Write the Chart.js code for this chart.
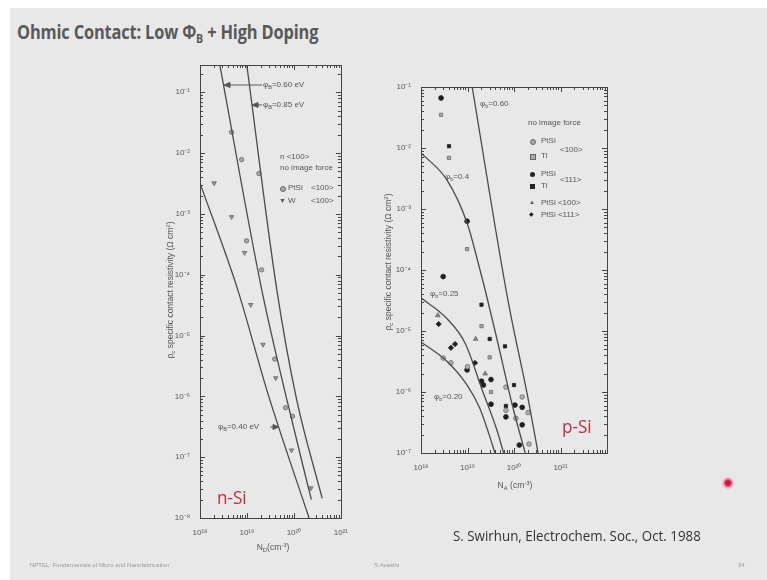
<!DOCTYPE html>
<html><head><meta charset="utf-8">
<script src="https://cdn.jsdelivr.net/npm/chart.js@4"></script>
<style>
html,body{margin:0;padding:0;background:#fff;}
#page{position:relative;width:767px;height:580px;overflow:hidden;background:#fff;}
#slide{position:absolute;left:10px;top:8px;width:757px;height:572px;background:#e8e8e8;}
.t{position:absolute;font-family:"Liberation Sans",Arial,sans-serif;color:#555;white-space:nowrap;line-height:1;}
.s8{font-size:8px;}
sub{font-size:70%;vertical-align:-2px;line-height:0;}
sup{font-size:70%;vertical-align:3px;line-height:0;}
canvas{position:absolute;}
.mk{position:absolute;display:block;}
</style></head>
<body><div id="page"><div id="slide"></div>

<div class="t" style="left:17px;top:22px;font-family:'Open Sans',sans-serif;font-weight:700;font-size:20px;color:#595959;transform:scaleX(0.82);transform-origin:0 0;letter-spacing:-0.2px">Ohmic Contact: Low Φ<sub style="font-size:13px;vertical-align:-4px">B</sub> + High Doping</div>

<canvas id="cL" width="180" height="495" style="left:170px;top:55px"></canvas>
<canvas id="cR" width="225" height="400" style="left:391px;top:77px"></canvas>

<svg style="position:absolute;left:0;top:0" width="767" height="580">
 <g stroke="#555" stroke-width="1" fill="#555">
  <line x1="262" y1="85" x2="229" y2="85"/><polygon points="224,85 230,82.5 230,87.5"/>
  <line x1="262" y1="105" x2="257" y2="105"/><polygon points="252,105 258,102.5 258,107.5"/>
  <line x1="270" y1="427" x2="274" y2="427"/><polygon points="279,427 273,424.5 273,429.5"/>
 </g>
</svg>

<!-- left chart texts -->
<div class="t s8" style="left:263px;top:81px">φ<sub>B</sub>=0.60 eV</div>
<div class="t s8" style="left:263px;top:101px">φ<sub>B</sub>=0.85 eV</div>
<div class="t s8" style="left:280px;top:153px">n &lt;100&gt;</div>
<div class="t s8" style="left:280px;top:164px">no image force</div>
<span class="mk" style="left:280px;top:186px;width:4px;height:4px;border-radius:50%;background:#aaa;border:0.8px solid #666"></span>
<div class="t s8" style="left:288px;top:184px">PtSi</div>
<div class="t s8" style="left:311px;top:184px">&lt;100&gt;</div>
<div class="t s8" style="left:279px;top:197px;font-size:7px">▼</div>
<div class="t s8" style="left:288px;top:197px">W</div>
<div class="t s8" style="left:311px;top:197px">&lt;100&gt;</div>
<div class="t s8" style="left:218px;top:423px">φ<sub>B</sub>=0.40 eV</div>
<div class="t" style="left:217px;top:488px;font-family:'Open Sans',sans-serif;font-size:19px;color:#c42a3c;transform:scaleX(0.9);transform-origin:0 0">n-Si</div>
<div class="t s8" style="left:170px;top:290px;transform:translate(-50%,-50%) rotate(-90deg);font-size:8.5px">ρ<sub>c</sub> specific contact resistivity (Ω cm<sup>2</sup>)</div>
<div class="t s8" style="left:273px;top:547px;transform:translate(-50%,-50%);font-size:8.5px">N<sub>D</sub>(cm<sup>-3</sup>)</div>

<!-- right chart texts -->
<div class="t s8" style="left:480px;top:100px">φ<sub>b</sub>=0.60</div>
<div class="t s8" style="left:445px;top:173px">φ<sub>b</sub>=0.4</div>
<div class="t s8" style="left:430px;top:290px">φ<sub>b</sub>=0.25</div>
<div class="t s8" style="left:434px;top:393px">φ<sub>b</sub>=0.20</div>
<div class="t s8" style="left:528px;top:119px">no image force</div>
<span class="mk" style="left:530px;top:139px;width:4px;height:4px;border-radius:50%;background:#aaa;border:0.8px solid #666"></span>
<div class="t s8" style="left:541px;top:137px">PtSi</div>
<span class="mk" style="left:530px;top:154px;width:4px;height:4px;background:#aaa;border:0.8px solid #666"></span>
<div class="t s8" style="left:541px;top:152px">Ti</div>
<div class="t s8" style="left:560px;top:146px">&lt;100&gt;</div>
<span class="mk" style="left:530px;top:172px;width:5px;height:5px;border-radius:50%;background:#222"></span>
<div class="t s8" style="left:541px;top:170px">PtSi</div>
<span class="mk" style="left:530px;top:184px;width:5px;height:5px;background:#222"></span>
<div class="t s8" style="left:541px;top:182px">Ti</div>
<div class="t s8" style="left:560px;top:176px">&lt;111&gt;</div>
<div class="t s8" style="left:529px;top:199px;font-size:6px">▲</div>
<div class="t s8" style="left:541px;top:199px">PtSi &lt;100&gt;</div>
<div class="t s8" style="left:529px;top:211px;font-size:6px;color:#222">◆</div>
<div class="t s8" style="left:541px;top:211px">PtSi &lt;111&gt;</div>
<div class="t" style="left:562px;top:417px;font-family:'Open Sans',sans-serif;font-size:19px;color:#c42a3c;transform:scaleX(0.9);transform-origin:0 0">p-Si</div>
<div class="t s8" style="left:388px;top:262px;transform:translate(-50%,-50%) rotate(-90deg);font-size:8.5px">ρ<sub>c</sub> specific contact resistivity (Ω cm<sup>2</sup>)</div>
<div class="t s8" style="left:515px;top:485px;transform:translate(-50%,-50%);font-size:8.5px">N<sub>A</sub> (cm<sup>-3</sup>)</div>

<div class="t" style="left:453px;top:528px;font-family:'Open Sans',sans-serif;font-size:15px;color:#333;transform:scaleX(0.89);transform-origin:0 0">S. Swirhun, Electrochem. Soc., Oct. 1988</div>

<div class="t" style="left:30px;top:562px;font-size:6px;color:#9a9a9a">NPTEL: Fundamentals of Micro and Nanofabrication</div>
<div class="t" style="left:374px;top:562px;font-size:6px;color:#9a9a9a">S.Avasthi</div>
<div class="t" style="left:738px;top:562px;font-size:6px;color:#9a9a9a">34</div>

<span class="mk" style="left:722px;top:477px;width:12px;height:12px;border-radius:50%;background:radial-gradient(circle,#c8103a 0,#d81e48 30%,rgba(240,140,165,0.6) 55%,rgba(240,200,210,0) 100%)"></span>
</div>

<script>
// ---------- tick labels ----------
const leftXTicks  = [1e18, 1e19, 1e20, 1e21];
const leftYTicks  = [1e-8, 1e-7, 1e-6, 1e-5, 1e-4, 1e-3, 1e-2, 1e-1];
const rightXTicks = [1e18, 1e19, 1e20, 1e21];
const rightYTicks = [1e-7, 1e-6, 1e-5, 1e-4, 1e-3, 1e-2, 1e-1];

// ---------- n-Si (left) ----------
const nPtSiX = [4.7e18, 7.7e18, 1.8e19, 9.8e18, 2.05e19, 3.9e19, 6.6e19, 9.3e19];
const nPtSiY = [2.2e-2, 7.8e-3, 4.6e-3, 3.6e-4, 1.2e-4, 4.1e-6, 6.5e-7, 4.7e-7];
const nWX    = [2.0e18, 4.7e18, 8.9e18, 1.2e19, 2.2e19, 4.1e19, 8.9e19, 2.3e20];
const nWY    = [3.2e-3, 8.9e-4, 2.3e-4, 3.2e-5, 7.1e-6, 2.0e-6, 1.3e-7, 3.1e-8];
const nPhi040X = [1e18, 6.3e18, 2.75e19, 2.1e20];
const nPhi040Y = [3.2e-3, 5.8e-5, 1.15e-6, 1e-8];
const nPhi060X = [2.6e18, 2.05e19, 6.9e19, 2.35e20];
const nPhi060Y = [0.30, 5.8e-5, 9.5e-7, 2.0e-8];
const nPhi085X = [9.8e18, 4.3e19, 1.12e20, 4.0e20];
const nPhi085Y = [0.30, 5.8e-5, 9.5e-7, 2.1e-8];

// ---------- p-Si (right) ----------
const pPtSi100X = [1.0e19, 6.7e19, 1.5e20, 6.7e19, 2.0e20, 1.1e20, 2.1e20, 3.0e18, 4.4e18];
const pPtSi100Y = [2.6e-6, 1.2e-6, 8.3e-7, 5.0e-7, 4.6e-7, 3.7e-7, 1.4e-7, 3.6e-6, 3.0e-6];
const pTi100X   = [2.7e18, 4.0e18, 9.8e18, 2.0e19, 3.0e19, 3.2e19];
const pTi100Y   = [3.5e-2, 6.9e-3, 2.2e-4, 1.2e-5, 3.7e-6, 1.0e-6];
const pPtSi111X = [2.7e18, 9.8e18, 3.0e18, 9.8e18, 3.2e19, 2.0e19, 2.2e19, 3.2e19, 1.05e20, 1.5e20, 6.7e19, 1.5e20, 1.3e20];
const pPtSi111Y = [6.6e-2, 6.3e-4, 7.8e-5, 2.3e-6, 1.6e-6, 1.5e-6, 1.3e-6, 6.3e-7, 6.1e-7, 5.6e-7, 3.9e-7, 2.9e-7, 1.35e-7];
const pTi111X   = [4.0e18, 2.0e19, 3.0e19, 6.4e19, 1.0e20, 6.7e19];
const pTi111Y   = [1.07e-2, 2.7e-5, 7.4e-6, 5.6e-6, 1.3e-6, 5.9e-7];
const pTriX     = [2.3e18, 1.5e19, 2.4e19];
const pTriY     = [1.8e-5, 7.4e-6, 2.0e-6];
const pDiaX     = [2.4e18, 4.4e18, 5.4e18, 1.45e19];
const pDiaY     = [1.3e-5, 5.3e-6, 6.1e-6, 3.0e-6];
const pPhi060X = [1.26e19, 7.4e19, 2.0e20, 3.3e20];
const pPhi060Y = [0.1, 3.2e-5, 7.9e-7, 1e-7];
const pPhi040X = [1e18, 3.6e18, 9.8e18, 1.86e19, 2.4e19, 4.3e19, 9.1e19, 1.74e20];
const pPhi040Y = [8.3e-3, 3.0e-3, 5.9e-4, 1e-4, 4.7e-5, 7.4e-6, 6.3e-7, 1e-7];
const pPhi025X = [1e18, 3.6e18, 8.9e18, 2.1e19, 4.2e19, 6.0e19];
const pPhi025Y = [3.5e-5, 1.6e-5, 6.3e-6, 1.05e-6, 2.5e-7, 1e-7];
const pPhi020X = [1e18, 3.6e18, 9.8e18, 1.8e19, 2.8e19, 3.9e19];
const pPhi020Y = [6.6e-6, 3.2e-6, 1.3e-6, 5.6e-7, 2.2e-7, 1e-7];

const zip = (xs, ys) => xs.map((x, i) => ({x, y: ys[i]}));
const SUP = {'-':'⁻','0':'⁰','1':'¹','2':'²','3':'³','4':'⁴','5':'⁵','6':'⁶','7':'⁷','8':'⁸','9':'⁹'};
const pow10 = v => '10' + String(Math.round(Math.log10(v))).split('').map(c => SUP[c]).join('');

Chart.defaults.font.family = '"Liberation Sans", Arial, sans-serif';

const frame = {
  id: 'frame',
  afterDatasetsDraw(chart) {
    const {ctx, chartArea: a, scales: {x, y}} = chart;
    ctx.save();
    ctx.strokeStyle = '#444'; ctx.lineWidth = 1;
    ctx.strokeRect(Math.round(a.left) + 0.5, Math.round(a.top) + 0.5, Math.round(a.right - a.left), Math.round(a.bottom - a.top));
    const marks = sc => {
      const out = [];
      for (let n = Math.floor(Math.log10(sc.min)); n <= Math.ceil(Math.log10(sc.max)); n++)
        for (let m = 1; m <= 9; m++) {
          const v = m * Math.pow(10, n);
          if (v >= sc.min * 0.999 && v <= sc.max * 1.001) out.push({v, major: m === 1});
        }
      return out;
    };
    ctx.beginPath();
    marks(x).forEach(({v, major}) => {
      const p = Math.round(x.getPixelForValue(v)) + 0.5, L = major ? 5 : 3;
      ctx.moveTo(p, a.bottom); ctx.lineTo(p, a.bottom - L);
      ctx.moveTo(p, a.top); ctx.lineTo(p, a.top + L);
    });
    marks(y).forEach(({v, major}) => {
      const p = Math.round(y.getPixelForValue(v)) + 0.5, L = major ? 5 : 3;
      ctx.moveTo(a.left, p); ctx.lineTo(a.left + L, p);
      ctx.moveTo(a.right, p); ctx.lineTo(a.right - L, p);
    });
    ctx.stroke();
    ctx.restore();
  }
};

function line(xs, ys) {
  return {data: zip(xs, ys), showLine: true, pointRadius: 0, borderColor: '#4a4a4a', borderWidth: 1.3,
          cubicInterpolationMode: 'monotone', fill: false};
}
function pts(xs, ys, style, r, bg, bd, rot) {
  return {data: zip(xs, ys), showLine: false, pointStyle: style, pointRadius: r, backgroundColor: bg,
          borderColor: bd, borderWidth: 0.8, pointRotation: rot || 0};
}
function axes(xMin, xMax, yMin, yMax, xT, yT, yW, xH, xSkip) {
  const tk = {font: {size: 8}, color: '#555', maxRotation: 0, autoSkip: false};
  return {
    x: {type: 'logarithmic', min: xMin, max: xMax, grid: {display: false}, border: {display: false},
        ticks: Object.assign({}, tk, {padding: 2, callback: v => (xSkip && v >= xSkip) ? '' : pow10(v)}),
        afterBuildTicks: s => { s.ticks = xT.map(v => ({value: v})); },
        afterFit: s => { s.height = xH; }},
    y: {type: 'logarithmic', min: yMin, max: yMax, grid: {display: false}, border: {display: false},
        ticks: Object.assign({}, tk, {padding: 2, callback: v => pow10(v)}),
        afterBuildTicks: s => { s.ticks = yT.map(v => ({value: v})); },
        afterFit: s => { s.width = yW; }}
  };
}
const common = {animation: false, responsive: false, events: [],
  plugins: {legend: {display: false}, tooltip: {enabled: false}}};

new Chart(document.getElementById('cL'), {
  type: 'scatter',
  data: {datasets: [
    line(nPhi040X, nPhi040Y), line(nPhi060X, nPhi060Y), line(nPhi085X, nPhi085Y),
    pts(nPtSiX, nPtSiY, 'circle', 2.2, '#a8a8a8', '#666'),
    pts(nWX, nWY, 'triangle', 2.6, '#999', '#666', 180)
  ]},
  options: Object.assign({}, common, {
    layout: {padding: {top: 10, right: 8, left: 0, bottom: 0}},
    scales: axes(1e18, 1e21, 1e-8, 0.28, leftXTicks, leftYTicks, 30, 32)
  }),
  plugins: [frame]
});

new Chart(document.getElementById('cR'), {
  type: 'scatter',
  data: {datasets: [
    line(pPhi060X, pPhi060Y), line(pPhi040X, pPhi040Y), line(pPhi025X, pPhi025Y), line(pPhi020X, pPhi020Y),
    pts(pPtSi100X, pPtSi100Y, 'circle', 2.3, '#b0b0b0', '#6a6a6a'),
    pts(pTi100X, pTi100Y, 'rect', 2.3, '#a8a8a8', '#6a6a6a'),
    pts(pPtSi111X, pPtSi111Y, 'circle', 2.4, '#1e1e1e', '#1e1e1e'),
    pts(pTi111X, pTi111Y, 'rect', 2.3, '#1e1e1e', '#1e1e1e'),
    pts(pTriX, pTriY, 'triangle', 2.7, '#888', '#666'),
    pts(pDiaX, pDiaY, 'rectRot', 2.6, '#1e1e1e', '#1e1e1e')
  ]},
  options: Object.assign({}, common, {
    layout: {padding: {top: 10, right: 9, left: 0, bottom: 0}},
    scales: axes(1e18, 1e22, 1e-7, 1e-1, rightXTicks, rightYTicks, 30, 24, 1e22)
  }),
  plugins: [frame]
});
</script>
</body></html>
